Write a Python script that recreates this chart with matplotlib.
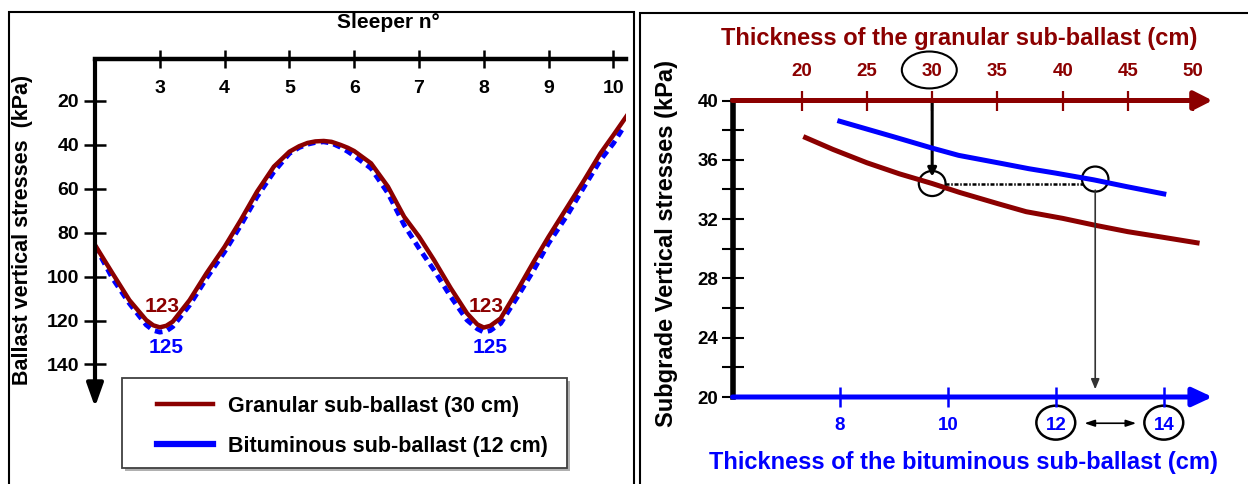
import matplotlib
matplotlib.use('Agg')
import matplotlib.pyplot as plt
from matplotlib.lines import Line2D
from matplotlib.patches import Ellipse, Rectangle

plt.rcParams['font.family'] = ['Liberation Sans', 'DejaVu Sans']
plt.rcParams['font.weight'] = 'bold'

W, H = 1248, 484
DARKRED = '#8b0000'
BLUE = '#0000ff'

# ---------------- Left panel data (ballast stresses along sleepers) ----------------
sleeper_red = [2.0, 2.27, 2.53, 2.79, 2.9, 3.0, 3.1, 3.2, 3.46, 3.72, 4.0, 4.25, 4.5, 4.76,
               5.0, 5.15, 5.28, 5.4, 5.53, 5.65, 5.79, 5.9, 6.0, 6.26, 6.52, 6.77, 7.0, 7.23,
               7.49, 7.74, 7.9, 8.0, 8.1, 8.26, 8.52, 8.77, 9.0, 9.29, 9.55, 9.8, 10.0, 10.2]
stress_red = [85.6, 98.5, 110.7, 119.8, 122.2, 123.1, 122.4, 120.5, 110.7, 98.5, 86.4, 74.2, 61.3, 49.9,
              43.1, 40.6, 39.1, 38.4, 38.2, 38.6, 40.0, 41.3, 42.8, 48.4, 59.0, 72.7, 81.8, 92.4,
              105.3, 116.7, 121.8, 123.2, 122.4, 119.0, 106.1, 93.2, 81.8, 68.2, 56.0, 43.8, 35.5, 27.0]
sleeper_blue = [2.0, 2.27, 2.53, 2.79, 2.9, 3.0, 3.1, 3.2, 3.46, 3.72, 4.0, 4.25, 4.5, 4.76,
                5.0, 5.15, 5.28, 5.4, 5.53, 5.65, 5.79, 5.9, 6.0, 6.26, 6.52, 6.77, 7.0, 7.23,
                7.49, 7.74, 7.9, 8.0, 8.1, 8.26, 8.52, 8.77, 9.0, 9.29, 9.55, 9.8, 10.0, 10.13]
stress_blue = [86.0, 100.8, 112.2, 122.0, 124.5, 125.3, 124.8, 122.8, 113.0, 100.8, 88.7, 76.6, 63.7, 52.3,
               43.9, 41.2, 39.7, 38.9, 38.6, 39.2, 41.1, 43.0, 45.0, 50.7, 62.0, 76.5, 87.1, 97.0,
               109.2, 119.8, 123.8, 125.3, 124.6, 121.3, 109.2, 97.0, 84.8, 71.9, 59.0, 46.9, 39.3, 33.2]
sleeper_ticks = [3, 4, 5, 6, 7, 8, 9, 10]
ballast_ticks = [20, 40, 60, 80, 100, 120, 140]
min_sleepers = [3, 8]
min_red_label = '123'
min_blue_label = '125'
legend_labels = ['Granular sub-ballast (30 cm)', 'Bituminous sub-ballast (12 cm)']

# ---------------- Right panel data (subgrade stresses vs thickness) ----------------
granular_cm = [20.3, 22.4, 25.0, 27.5, 30.0, 32.1, 35.0, 37.2, 40.0, 42.4, 45.0, 47.5, 50.3]
granular_stress = [37.5, 36.7, 35.8, 35.05, 34.4, 33.8, 33.05, 32.5, 32.05, 31.6, 31.15, 30.8, 30.4]
bituminous_cm = [8.0, 9.0, 9.7, 10.2, 11.0, 11.5, 12.0, 12.7, 13.3, 14.0]
bituminous_stress = [38.6, 37.55, 36.8, 36.3, 35.75, 35.4, 35.1, 34.65, 34.2, 33.7]
granular_ticks = [20, 25, 30, 35, 40, 45, 50]
bituminous_ticks = [8, 10, 12, 14]
subgrade_major = [20, 24, 28, 32, 36, 40]
subgrade_minor = [22, 26, 30, 34, 38]
equiv_granular = 30
equiv_stress = 34.4
equiv_bituminous = 12.73
range_bituminous = [12, 14]


def rect(x0, y0, x1, y1):
    return [x0 / W, 1 - y1 / H, (x1 - x0) / W, (y1 - y0) / H]


def fx(x):
    return x / W


def fy(y):
    return 1 - y / H


fig = plt.figure(figsize=(W / 100, H / 100), dpi=100)
fig.patch.set_facecolor('white')

# panel frames
fig.add_artist(Rectangle((fx(9), fy(500)), (633.5 - 9) / W, (500 - 12.5) / H,
                         transform=fig.transFigure, fill=False, ec='black', lw=1.5, zorder=0.5))
fig.add_artist(Rectangle((fx(640), fy(500)), (1300 - 640) / W, (500 - 12.7) / H,
                         transform=fig.transFigure, fill=False, ec='black', lw=1.5, zorder=0.5))

# ---------------- Left panel ----------------
ax1 = fig.add_axes(rect(95, 59, 626.4, 407))
ax1.set_xlim(2.0, 10.2)
ax1.set_ylim(159.4, 0.87)
ax1.patch.set_alpha(0)
ax1.plot(sleeper_blue, stress_blue, color=BLUE, lw=3.5, ls=(0, (1.6, 1.1)), zorder=2)
ax1.plot(sleeper_red, stress_red, color=DARKRED, lw=3.2, zorder=3, solid_joinstyle='round')
for side in ['left', 'right', 'bottom']:
    ax1.spines[side].set_visible(False)
ax1.spines['top'].set_linewidth(3.2)
ax1.xaxis.tick_top()
ax1.set_xticks(sleeper_ticks)
ax1.set_xticklabels([str(t) for t in sleeper_ticks])
ax1.tick_params(axis='x', top=True, bottom=False, labeltop=True, labelbottom=False,
                direction='inout', length=13.4, width=1.8, pad=-34, labelsize=14)
ax1.set_yticks(ballast_ticks)
ax1.tick_params(axis='y', direction='inout', length=15.6, width=1.8, pad=3.6, labelsize=14)
ax1.annotate('', xy=(0, 0), xytext=(0, 1), xycoords='axes fraction',
             arrowprops=dict(arrowstyle='-|>,head_length=0.7,head_width=0.25', color='black',
                             lw=3, mutation_scale=20, shrinkA=0, shrinkB=0))
for s in min_sleepers:
    ax1.text(s + 0.03, 113.7, min_red_label, color=DARKRED, fontsize=15, ha='center', va='center')
    ax1.text(s + 0.09, 132.2, min_blue_label, color=BLUE, fontsize=15, ha='center', va='center')

fig.text(fx(388), fy(22.7), 'Sleeper n°', fontsize=15, ha='center', va='center')
fig.text(fx(22.4), fy(230), 'Ballast vertical stresses  (kPa)', fontsize=15.5, rotation=90,
         ha='center', va='center')

# legend with framed box and shadow
fig.add_artist(Rectangle((fx(124.6), fy(471.3)), (567 - 121.6) / W, (468.3 - 377.7) / H,
                         transform=fig.transFigure, fc='#b0b0b0', ec='none', zorder=1))
fig.add_artist(Rectangle((fx(121.6), fy(468.3)), (567 - 121.6) / W, (468.3 - 377.7) / H,
                         transform=fig.transFigure, fc='white', ec='#404040', lw=1.3, zorder=1.1))
handles = [Line2D([], [], color=DARKRED, lw=3.2), Line2D([], [], color=BLUE, lw=4.5)]
fig.legend(handles, legend_labels, loc='center left', bbox_to_anchor=(fx(157), fy(426.3)),
           bbox_transform=fig.transFigure, frameon=False, fontsize=15.5, handlelength=2.6,
           handletextpad=0.7, labelspacing=0.89, borderpad=0, borderaxespad=0)

# ---------------- Right panel ----------------
ax2 = fig.add_axes(rect(732.5, 100.5, 1212.5, 397))
ax2.set_xlim(14.70, 51.48)
ax2.set_ylim(20, 40)
ax2.patch.set_alpha(0)
ax3 = ax2.twiny()
ax3.set_xlim(6.013, 14.902)

ax2.plot(granular_cm, granular_stress, color=DARKRED, lw=3.6, zorder=2)
ax3.plot(bituminous_cm, bituminous_stress, color=BLUE, lw=3.6, zorder=2)

for side in ['top', 'right', 'bottom']:
    ax2.spines[side].set_visible(False)
for side in ['top', 'right', 'bottom', 'left']:
    ax3.spines[side].set_visible(False)
ax2.spines['left'].set_linewidth(4)

ax2.xaxis.tick_top()
ax2.set_xticks(granular_ticks)
ax2.tick_params(axis='x', top=True, bottom=False, labeltop=True, labelbottom=False,
                colors=DARKRED, direction='inout', length=14.4, width=1.6, pad=7.3, labelsize=13.5)
ax2.set_yticks(subgrade_major)
ax2.set_yticks(subgrade_minor, minor=True)
ax2.tick_params(axis='y', which='both', direction='inout', length=16, width=1.5, pad=2.2,
                labelsize=13.5)

ax3.xaxis.set_ticks_position('bottom')
ax3.set_xticks(bituminous_ticks)
ax3.tick_params(axis='x', top=False, bottom=True, labeltop=False, labelbottom=True,
                colors=BLUE, direction='inout', length=13.7, width=1.8, pad=7.3, labelsize=13.5)

# axis arrows
ax2.annotate('', xy=(1, 1), xytext=(0, 1), xycoords='axes fraction',
             arrowprops=dict(arrowstyle='-|>,head_length=0.55,head_width=0.28', color=DARKRED,
                             lw=3.6, mutation_scale=20, shrinkA=0, shrinkB=0), zorder=4)
ax2.annotate('', xy=(1, 0), xytext=(0, 0), xycoords='axes fraction',
             arrowprops=dict(arrowstyle='-|>,head_length=0.6,head_width=0.28', color=BLUE,
                             lw=3.6, mutation_scale=20, shrinkA=0, shrinkB=0), zorder=4)

# equivalence annotations
ax2.add_patch(Ellipse((equiv_granular - 0.22, 42.06), 4.21, 2.49, fill=False, ec='black', lw=1.5,
                      clip_on=False))
ax2.annotate('', xy=(equiv_granular, 34.86), xytext=(equiv_granular, 40),
             arrowprops=dict(arrowstyle='-|>,head_length=0.5,head_width=0.25', color='black',
                             lw=2.2, mutation_scale=10, shrinkA=0, shrinkB=0))
ax2.add_patch(Ellipse((equiv_granular, equiv_stress), 2.05, 1.69, fill=False, ec='black', lw=1.6))
ax2.plot([30.95, 41.55], [equiv_stress, equiv_stress], color='black', lw=1.8,
         ls=(0, (1.6, 0.7, 0.6, 0.7)))
ax3.add_patch(Ellipse((equiv_bituminous, 34.7), 0.49, 1.69, fill=False, ec='black', lw=1.6))
ax3.annotate('', xy=(equiv_bituminous, 20.52), xytext=(equiv_bituminous, 33.95),
             arrowprops=dict(arrowstyle='-|>,head_length=0.6,head_width=0.25', color='#333333',
                             lw=1.2, mutation_scale=10, shrinkA=0, shrinkB=0))
for b in range_bituminous:
    ax3.add_patch(Ellipse((b, 18.27), 0.72, 2.29, fill=False, ec='black', lw=1.8, clip_on=False))
ax3.annotate('', xy=(13.49, 18.23), xytext=(12.53, 18.23), annotation_clip=False,
             arrowprops=dict(arrowstyle='<|-|>,head_length=0.6,head_width=0.2', color='black',
                             lw=1.2, mutation_scale=10, shrinkA=0, shrinkB=0))

fig.text(fx(959.5), fy(38.3), 'Thickness of the granular sub-ballast (cm)', color=DARKRED,
         fontsize=17, ha='center', va='center')
fig.text(fx(963), fy(462.7), 'Thickness of the bituminous sub-ballast (cm)', color=BLUE,
         fontsize=17, ha='center', va='center')
fig.text(fx(666), fy(243.5), 'Subgrade Vertical stresses (kPa)', fontsize=17, rotation=90,
         ha='center', va='center')

fig.savefig('out.png', dpi=100)
